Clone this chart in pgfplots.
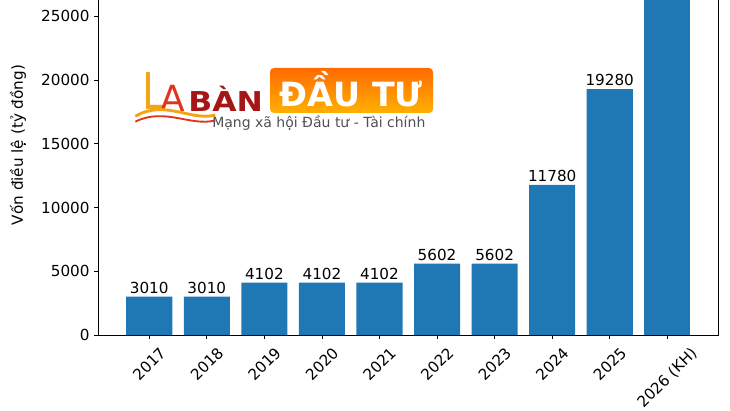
\documentclass[border=0pt]{standalone}
\usepackage{graphicx}
\usepackage{pgfplots}
\pgfplotsset{compat=1.18}
\usepackage{fontspec}
\setmainfont{DejaVu Sans}
\definecolor{barblue}{HTML}{1F77B4}
\definecolor{logoL}{HTML}{F2A516}
\definecolor{logoA}{HTML}{E0341C}
\definecolor{logoBAN}{HTML}{A51616}
\definecolor{logoTop}{HTML}{FF6A00}
\definecolor{logoBot}{HTML}{FFB000}
\definecolor{logoSub}{HTML}{505050}
\newcommand{\fs}{\fontsize{11.4}{13.5}\selectfont}
\begin{document}
\begin{tikzpicture}
\begin{axis}[
  at={(0,0)}, anchor=south west, scale only axis,
  width=465.4pt, height=284.96pt,
  xmin=-0.89, xmax=9.89, ymin=0, ymax=29800,
  axis line style={line width=0.6pt, black},
  tick align=outside, tick pos=left,
  major tick length=2.8pt,
  every tick/.style={black, line width=0.6pt},
  xtick={0,1,2,3,4,5,6,7,8,9},
  xticklabels={\rotatebox{45}{2017},\rotatebox{45}{2018},\rotatebox{45}{2019},\rotatebox{45}{2020},\rotatebox{45}{2021},\rotatebox{45}{2022},\rotatebox{45}{2023},\rotatebox{45}{2024},\rotatebox{45}{2025},\rotatebox{45}{2026 (KH)}},
  xticklabel style={anchor=north, inner sep=0pt, yshift=-5.5pt, font=\fs},
  ytick={0,5000,10000,15000,20000,25000},
  scaled y ticks=false,
  yticklabel style={font=\fs, /pgf/number format/.cd, 1000 sep={}, fixed, assume math mode=true},
  ylabel={Vốn điều lệ (tỷ đồng)},
  ylabel style={font=\fs, at={(axis description cs:-0.129,0.5)}, anchor=center},
]
\addplot[ybar, bar width=0.8, fill=barblue, draw=none,
  nodes near coords,
  nodes near coords style={font=\fs, anchor=base, inner sep=0pt, yshift=2.4pt, black, /pgf/number format/.cd, 1000 sep={}, fixed, assume math mode=true}] coordinates {
  (0,3010) (1,3010) (2,4102) (3,4102) (4,4102)
  (5,5602) (6,5602) (7,11780) (8,19280)
};
\addplot[ybar, bar width=0.8, fill=barblue, draw=none] coordinates {
  (9,28380)
};
\end{axis}
% watermark logo
\shade[top color=logoTop, bottom color=logoBot, rounded corners=3pt] (129pt,166.5pt) rectangle (251.25pt,200.25pt);
\node[anchor=base, text=white, inner sep=0pt, font=\fontsize{25}{28}\selectfont\bfseries] at (190pt,171.5pt) {ĐẦU TƯ};
\node[anchor=base west, text=logoL, inner sep=0pt, font=\fontsize{38}{40}\selectfont, xscale=0.8] at (33pt,169pt) {L};
\node[anchor=base west, text=logoA, inner sep=0pt, font=\fontsize{27}{30}\selectfont] at (47pt,167.5pt) {A};
\node[anchor=base west, text=logoBAN, inner sep=0pt, font=\fontsize{20.5}{24}\selectfont\bfseries, xscale=1.15] at (67.5pt,167.5pt) {BÀN};
\draw[logoL, line width=2.2pt] (28pt,164pt) .. controls (50pt,177pt) and (70pt,160pt) .. (88pt,165pt);
\draw[logoA, line width=1.4pt] (28pt,160pt) .. controls (50pt,171pt) and (70pt,156pt) .. (88pt,161pt);
\node[anchor=base west, text=logoSub, inner sep=0pt, font=\fontsize{10.5}{12}\selectfont] at (85.5pt,155.25pt) {Mạng xã hội Đầu tư - Tài chính};
\pgfresetboundingbox
\useasboundingbox (-73.5pt,-56.25pt) rectangle (474pt,251.25pt);
\end{tikzpicture}
\end{document}
